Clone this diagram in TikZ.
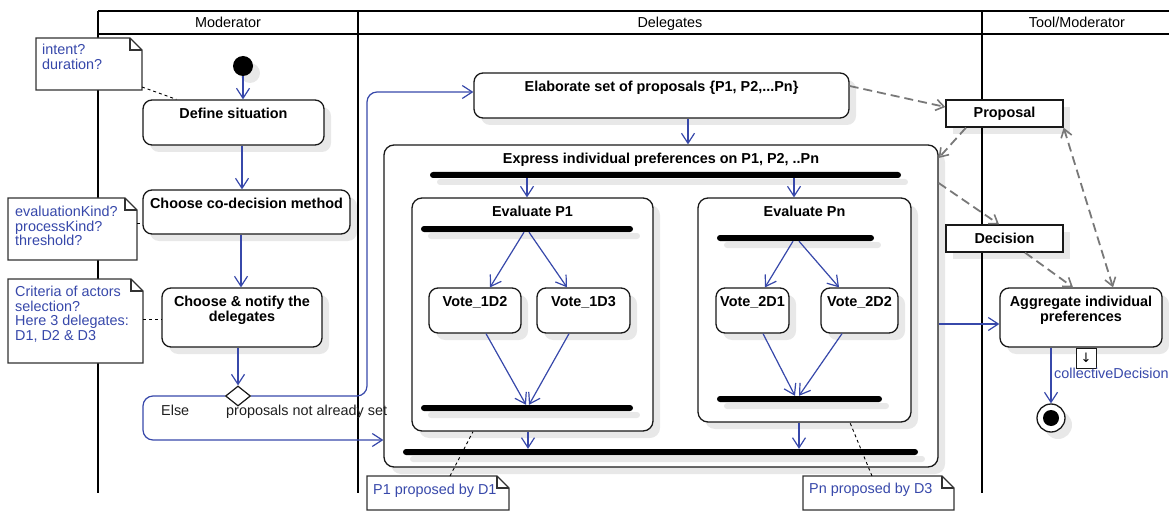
\documentclass[tikz,border=0pt]{standalone}
\usepackage{fontspec}
\setmainfont{Liberation Sans}
\newfontfamily\symf{DejaVu Sans}
\usetikzlibrary{arrows.meta,shapes.geometric,shadows,calc}
\definecolor{umlblue}{RGB}{55,72,170}
\definecolor{dashgray}{RGB}{120,120,120}
\definecolor{notegray}{RGB}{50,50,50}
\newcommand\umlnote[4]{%
  \node[inner sep=0pt,outer sep=0pt,minimum width=#3pt,minimum height=#4pt,anchor=north west] (#1) at (#2) {};
  \draw[notedraw] (#1.north west) -- ([xshift=-12pt]#1.north east) -- ([yshift=-12pt]#1.north east) -- (#1.south east) -- (#1.south west) -- cycle;
  \draw[notedraw,fill=none] ([xshift=-12pt]#1.north east) |- ([yshift=-12pt]#1.north east);
}
\begin{document}
\begin{tikzpicture}[x=1pt,y=-1pt,
  font=\fontsize{14.4}{14.6}\selectfont,
  shad/.style={drop shadow={shadow xshift=7pt,shadow yshift=-7pt,fill=black,opacity=0.09}},
  act/.style={draw=black!90,line width=1.3pt,fill=white,rounded corners=9pt,inner sep=0pt,shad},
  objbox/.style={draw=black!90,line width=1.3pt,fill=white,inner sep=0pt,minimum width=117pt,minimum height=27pt,font=\fontsize{14.4}{14.6}\selectfont\bfseries,shad},
  actlbl/.style={anchor=north,inner sep=0pt,yshift=-8.5pt,font=\fontsize{14.4}{14.6}\selectfont\bfseries,align=center},
  bar/.style={fill=black,rounded corners=3pt,inner sep=0pt,minimum height=6pt,shad},
  flow/.style={draw=umlblue,line width=1.2pt,-{Straight Barb[length=10pt,width=13pt,line width=1.2pt]}},
  dflow/.style={draw=dashgray,line width=1.8pt,dash pattern=on 9pt off 5pt,-{Straight Barb[length=8pt,width=11pt,line width=1.6pt]}},
  dflowb/.style={draw=dashgray,line width=1.8pt,dash pattern=on 9pt off 5pt,{Straight Barb[length=8pt,width=11pt,line width=1.6pt]}-{Straight Barb[length=8pt,width=11pt,line width=1.6pt]}},
  notedraw/.style={draw=notegray,line width=1.2pt,fill=white},
  notetxt/.style={anchor=north west,inner sep=0pt,align=left,text=umlblue},
  notelink/.style={draw=black,line width=0.9pt,dash pattern=on 3pt off 3pt},
  lane/.style={draw=black,line width=2pt},
  plain/.style={inner sep=0pt,text=black!88},
]
\clip (0,0) rectangle (1169,513);
% swimlanes
\draw[lane] (98,11) -- (1169,11);
\draw[lane] (98,34) -- (1169,34);
\draw[lane] (98,11) -- (98,493);
\draw[lane] (358,11) -- (358,493);
\draw[lane] (982,11) -- (982,493);
\node[anchor=base,inner sep=0pt] (hmod) at (228,27.5) {Moderator};
\node[anchor=base,inner sep=0pt] (hdel) at (670,27.5) {Delegates};
\node[anchor=base,inner sep=0pt] (htool) at (1077,27.5) {Tool/Moderator};

% notes
\umlnote{n1}{36,38}{106}{52}
\node[notetxt] (n1t) at (42,44) {intent?\\duration?};
\umlnote{n2}{8,198}{129}{62}
\node[notetxt] (n2t) at (15,206) {evaluationKind?\\processKind?\\threshold?};
\umlnote{n3}{8,279}{135}{84}
\node[notetxt] (n3t) at (15,286) {Criteria of actors\\selection?\\Here 3 delegates:\\D1, D2 \& D3};

% moderator activities
\node[circle,fill=black,minimum size=20pt,inner sep=0pt,shad] (init) at (243,66) {};
\node[act,minimum width=181pt,minimum height=45pt,label={[actlbl]north:Define situation}] (def) at (233.5,122.5) {};
\node[act,minimum width=207pt,minimum height=44pt,label={[actlbl]north:Choose co-decision method}] (cdm) at (246.5,212) {};
\node[act,minimum width=160pt,minimum height=59pt,label={[actlbl]north:{Choose \& notify the\\delegates}}] (notify) at (242,317.5) {};
\node[diamond,draw=black!90,line width=1.2pt,fill=white,minimum width=25pt,minimum height=20pt,inner sep=0pt] (dia) at (238,396) {};
\node[plain,anchor=base west] (elsel) at (161,415.5) {Else};

% delegates
\node[act,minimum width=375pt,minimum height=45pt,label={[actlbl]north:{Elaborate set of proposals \{P1, P2,...Pn\}}}] (ela) at (661.5,95.5) {};
\node[act,rounded corners=10pt,minimum width=554pt,minimum height=322pt,label={[actlbl]north:{Express individual preferences on P1, P2, ..Pn}}] (expr) at (661,306) {};
\node[bar,minimum width=471pt] (tb) at (665.5,175) {};
\node[act,rounded corners=10pt,minimum width=241pt,minimum height=233pt,label={[actlbl]north:Evaluate P1}] (evp1) at (532.5,314.5) {};
\node[act,rounded corners=10pt,minimum width=213pt,minimum height=224pt,label={[actlbl]north:Evaluate Pn}] (evpn) at (804.5,310) {};
\node[bar,minimum width=212pt] (f1) at (527,229) {};
\node[bar,minimum width=212pt] (j1) at (527,408) {};
\node[bar,minimum width=157pt] (fn) at (795.5,238) {};
\node[bar,minimum width=165pt] (jn) at (799.5,399) {};
\node[bar,minimum width=515pt] (ob) at (660.5,452) {};
\node[act,minimum width=92pt,minimum height=45pt,label={[actlbl]north:Vote\_1D2}] (v12) at (475,310.5) {};
\node[act,minimum width=93pt,minimum height=45pt,label={[actlbl]north:Vote\_1D3}] (v13) at (583.5,310.5) {};
\node[act,minimum width=73pt,minimum height=45pt,label={[actlbl]north:Vote\_2D1}] (v21) at (752.5,310.5) {};
\node[act,minimum width=77pt,minimum height=45pt,label={[actlbl]north:Vote\_2D2}] (v22) at (859.5,310.5) {};

\umlnote{n4}{367,476}{142}{34}
\node[notetxt] (n4t) at (373,484) {P1 proposed by D1};
\umlnote{n5}{803,476}{151}{34}
\node[notetxt] (n5t) at (809,483) {Pn proposed by D3};

% tool / moderator
\node[objbox] (prop) at (1004.5,113.5) {Proposal};
\node[objbox] (dec) at (1004.5,238.5) {Decision};
\node[act,minimum width=162pt,minimum height=59pt,label={[actlbl]north:{Aggregate individual\\preferences}}] (agg) at (1081,317.5) {};
\node[draw=black!90,line width=1pt,fill=white,minimum width=20pt,minimum height=20pt,inner sep=0pt,anchor=north,font=\symf\fontsize{13}{13}\selectfont] (pin) at (agg.south -| 1086,0) {↓};
\node[anchor=base west,inner sep=0pt,text=umlblue] (cdlbl) at (1054,378) {collectiveDecision};
\node[circle,draw=black!90,line width=1.3pt,fill=white,minimum size=28pt,inner sep=0pt,shad] (fin) at (1051,418) {};
\node[circle,fill=black,minimum size=16pt,inner sep=0pt] (finc) at (fin) {};

% note links
\draw[notelink] ([yshift=3pt]n1.south east) -- ([xshift=34pt]def.north west);
\draw[notelink] (n2.east |- 0,223) -- (cdm.west |- 0,223);
\draw[notelink] (n3.east |- 0,319) -- (notify.west |- 0,319);
\draw[notelink] (n4.north -| 450,0) -- (evp1.south -| 473,0);
\draw[notelink] (n5.north -| 872,0) -- (evpn.south -| 850,0);

% control flows
\draw[flow] (init) -- (def.north -| init);
\draw[flow] (def.south -| 242,0) -- (cdm.north -| 242,0);
\draw[flow] (cdm.south -| 241,0) -- (notify.north -| 241,0);
\draw[flow] (notify.south -| dia) -- (dia.north);
\draw[flow,rounded corners=10pt] (dia.east) -| (367,92) -- (ela.west |- 0,92);
\draw[flow,rounded corners=10pt] (dia.west) -| (143,440) -- (expr.west |- 0,440);
\draw[flow] (ela.south -| 688,0) -- (expr.north -| 688,0);
\draw[flow] (tb.south -| 527,0) -- (evp1.north -| 527,0);
\draw[flow] (tb.south -| 794,0) -- (evpn.north -| 794,0);
\draw[flow] (f1.south -| 524,0) -- (v12.north -| 490,0);
\draw[flow] (f1.south -| 529,0) -- (v13.north -| 567,0);
\draw[flow] (v12.south -| 486,0) -- (j1.north -| 526,0);
\draw[flow] (v13.south -| 569,0) -- (j1.north -| 529,0);
\draw[flow] (fn.south -| 793,0) -- (v21.north -| 765,0);
\draw[flow] (fn.south -| 799,0) -- (v22.north -| 839,0);
\draw[flow] (v21.south -| 763,0) -- (jn.north -| 795,0);
\draw[flow] (v22.south -| 842,0) -- (jn.north -| 799,0);
\draw[flow] (evp1.south -| 528,0) -- (ob.north -| 528,0);
\draw[flow] (evpn.south -| 799,0) -- (ob.north -| 799,0);
\draw[flow] (expr.east |- 0,324) -- (agg.west |- 0,324);
\draw[flow] (agg.south -| fin) -- (fin.north);

% object flows
\draw[dflow] (ela.east |- 0,86) -- (prop.west |- 0,107);
\draw[dflow] (prop.south -| 966,0) -- (expr.east |- 0,158);
\draw[dflow] (expr.east |- 0,183) -- (dec.north -| 999,0);
\draw[dflow] (dec.south -| 1025,0) -- (agg.north -| 1073,0);
\draw[dflowb] (agg.north -| 1113,0) -- (prop.south east);

% guard text drawn last (it overlaps the lane line and the box edge)
\node[plain,anchor=base west] (guard) at (226,415.5) {proposals not already set};
\end{tikzpicture}
\end{document}
